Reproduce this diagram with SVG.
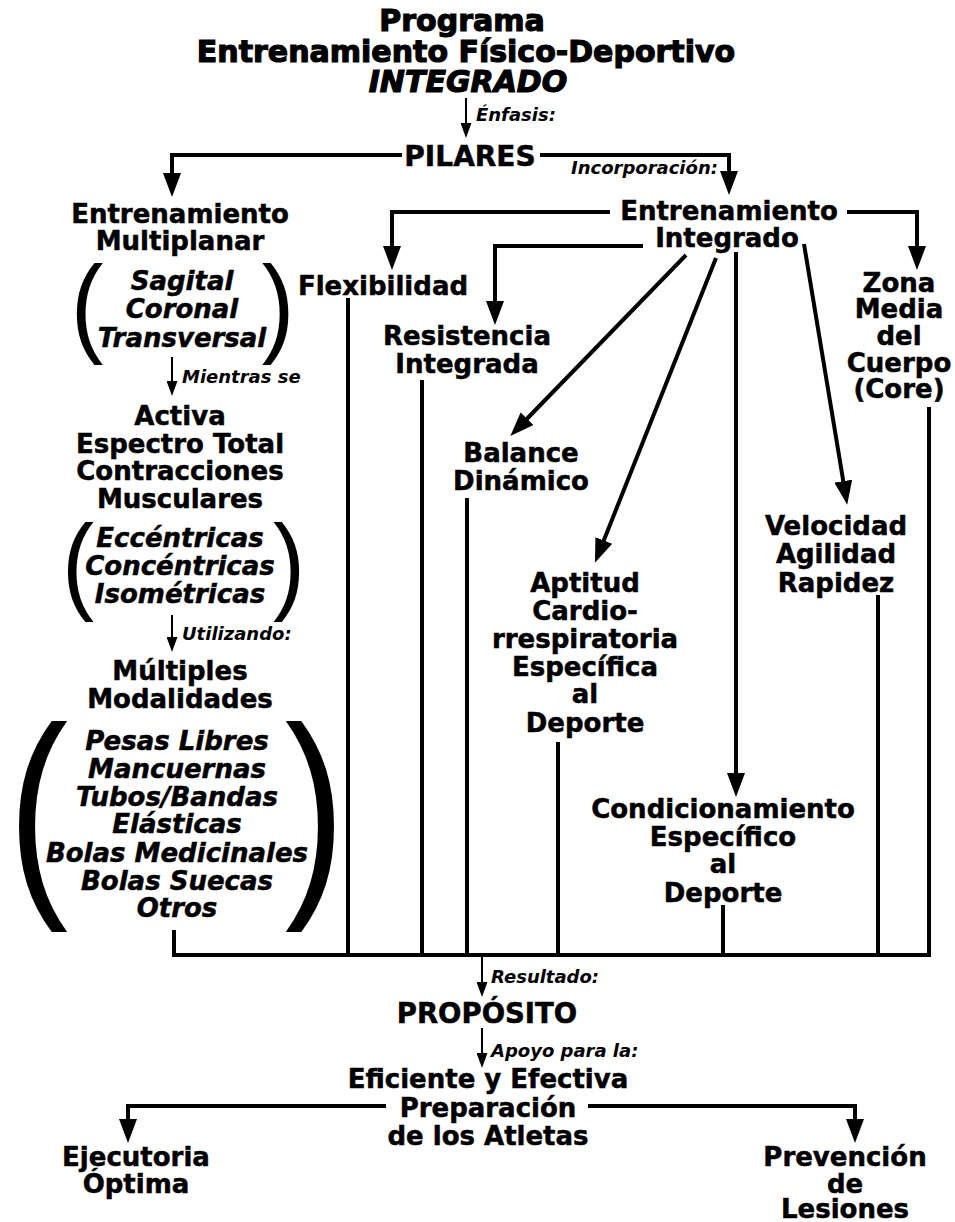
<svg xmlns="http://www.w3.org/2000/svg" width="955" height="1222" viewBox="0 0 955 1222">
<style>
.n{font-family:"DejaVu Sans","Liberation Sans",sans-serif;font-weight:bold;font-size:26px;text-anchor:middle;fill:#000;stroke:#000;stroke-width:0.5}
.it{font-style:italic}
.t{font-family:"DejaVu Sans","Liberation Sans",sans-serif;font-weight:bold;font-size:30px;text-anchor:middle;fill:#000;stroke:#000;stroke-width:1.2}
.s{font-family:"DejaVu Sans","Liberation Sans",sans-serif;font-weight:bold;font-style:italic;font-size:18px;fill:#000}
.p{font-family:"Liberation Sans",sans-serif;font-weight:normal;text-anchor:middle;fill:#000}
.c{fill:none;stroke:#000;stroke-width:4}
.cs{fill:none;stroke:#000;stroke-width:2}
</style>
<defs>
<marker id="ah" markerUnits="userSpaceOnUse" markerWidth="24" markerHeight="18" viewBox="0 0 24 18" refX="13" refY="9" orient="auto"><path d="M0,0 L24,9 L0,18 z" fill="#000"/></marker>
<marker id="ahs" markerUnits="userSpaceOnUse" markerWidth="15" markerHeight="11" viewBox="0 0 15 11" refX="8" refY="5.5" orient="auto"><path d="M0,0 L15,5.5 L0,11 z" fill="#000"/></marker>
</defs>

<g id="connectors">
<path class="cs" d="M466,98 V131" marker-end="url(#ahs)"/>
<path class="c" d="M402,155 H172 V186" marker-end="url(#ah)"/>
<path class="c" d="M540,155 H729 V184" marker-end="url(#ah)"/>
<path class="cs" d="M172,357 V389" marker-end="url(#ahs)"/>
<path class="cs" d="M172,615 V645" marker-end="url(#ahs)"/>
<path class="c" d="M610,212 H392 V259" marker-end="url(#ah)"/>
<path class="c" d="M847,212 H917 V259" marker-end="url(#ah)"/>
<path class="c" d="M643,246 H495 V314" marker-end="url(#ah)"/>
<path class="c" d="M686,255 L518,428" marker-end="url(#ah)"/>
<path class="c" d="M716,258 L599,552.5" marker-end="url(#ah)"/>
<path class="c" d="M736,252 V786" marker-end="url(#ah)"/>
<path class="c" d="M804,244 L845.4,494" marker-end="url(#ah)"/>
<path class="c" d="M174,930 V955 H929 V407"/>
<path class="c" d="M348,298 V955"/>
<path class="c" d="M422,380 V955"/>
<path class="c" d="M467,498 V955"/>
<path class="c" d="M558,742 V955"/>
<path class="c" d="M723,905 V955"/>
<path class="c" d="M878,595 V955"/>
<path class="cs" d="M482,957 V990" marker-end="url(#ahs)"/>
<path class="cs" d="M482,1028 V1061" marker-end="url(#ahs)"/>
<path class="c" d="M386,1106 H128 V1132" marker-end="url(#ah)"/>
<path class="c" d="M588,1106 H855 V1132" marker-end="url(#ah)"/>
</g>

<g id="label-enfasis"><text class="s" x="476" y="121">Énfasis:</text></g>
<g id="label-incorporacion"><text class="s" x="571" y="174">Incorporación:</text></g>
<g id="label-mientras"><text class="s" x="182" y="383">Mientras se</text></g>
<g id="label-utilizando"><text class="s" x="182" y="640">Utilizando:</text></g>
<g id="label-resultado"><text class="s" x="491" y="983">Resultado:</text></g>
<g id="label-apoyo"><text class="s" x="491" y="1057">Apoyo para la:</text></g>

<g id="title">
<text class="t" x="462" y="31">Programa</text>
<text class="t" x="466" y="62">Entrenamiento Físico-Deportivo</text>
<text class="t it" x="468" y="92">INTEGRADO</text>
</g>

<g id="pilares"><text class="n" x="470" y="166" style="font-size:28px">PILARES</text></g>

<g id="multiplanar">
<text class="n" x="180" y="223">Entrenamiento</text>
<text class="n" x="180" y="250">Multiplanar</text>
<text class="p" transform="translate(87,342) scale(0.9,1)" font-size="109">(</text>
<text class="p" transform="translate(278,342) scale(0.9,1)" font-size="109">)</text>
<text class="n it" x="182" y="290">Sagital</text>
<text class="n it" x="182" y="318">Coronal</text>
<text class="n it" x="182" y="347">Transversal</text>
</g>

<g id="contracciones">
<text class="n" x="180" y="425">Activa</text>
<text class="n" x="180" y="453">Espectro Total</text>
<text class="n" x="180" y="480">Contracciones</text>
<text class="n" x="180" y="508">Musculares</text>
<text class="p" transform="translate(78,600) scale(0.9,1)" font-size="107">(</text>
<text class="p" transform="translate(289,600) scale(0.9,1)" font-size="107">)</text>
<text class="n it" x="180" y="547">Eccéntricas</text>
<text class="n it" x="180" y="575">Concéntricas</text>
<text class="n it" x="180" y="603">Isométricas</text>
</g>

<g id="modalidades">
<text class="n" x="180" y="680">Múltiples</text>
<text class="n" x="180" y="708">Modalidades</text>
<text class="p" transform="translate(38,885) scale(0.8,1)" font-size="227">(</text>
<text class="p" transform="translate(315,885) scale(0.8,1)" font-size="227">)</text>
<text class="n it" x="177" y="750">Pesas Libres</text>
<text class="n it" x="177" y="778">Mancuernas</text>
<text class="n it" x="177" y="806">Tubos/Bandas</text>
<text class="n it" x="177" y="833">Elásticas</text>
<text class="n it" x="177" y="862">Bolas Medicinales</text>
<text class="n it" x="177" y="890">Bolas Suecas</text>
<text class="n it" x="177" y="917">Otros</text>
</g>

<g id="integrado">
<text class="n" x="729" y="220">Entrenamiento</text>
<text class="n" x="727" y="247">Integrado</text>
</g>
<g id="flexibilidad"><text class="n" x="383" y="295">Flexibilidad</text></g>
<g id="resistencia">
<text class="n" x="467" y="345">Resistencia</text>
<text class="n" x="467" y="373">Integrada</text>
</g>
<g id="zona">
<text class="n" x="899" y="292">Zona</text>
<text class="n" x="899" y="318">Media</text>
<text class="n" x="899" y="345">del</text>
<text class="n" x="899" y="372">Cuerpo</text>
<text class="n" x="899" y="398">(Core)</text>
</g>
<g id="balance">
<text class="n" x="521" y="462">Balance</text>
<text class="n" x="521" y="490">Dinámico</text>
</g>
<g id="aptitud">
<text class="n" x="585" y="592">Aptitud</text>
<text class="n" x="585" y="620">Cardio-</text>
<text class="n" x="585" y="648">rrespiratoria</text>
<text class="n" x="585" y="676">Específica</text>
<text class="n" x="585" y="703">al</text>
<text class="n" x="585" y="732">Deporte</text>
</g>
<g id="velocidad">
<text class="n" x="836" y="535">Velocidad</text>
<text class="n" x="836" y="563">Agilidad</text>
<text class="n" x="836" y="592">Rapidez</text>
</g>
<g id="condicionamiento">
<text class="n" x="723" y="818">Condicionamiento</text>
<text class="n" x="723" y="846">Específico</text>
<text class="n" x="723" y="873">al</text>
<text class="n" x="723" y="902">Deporte</text>
</g>

<g id="proposito"><text class="n" x="487" y="1023" style="font-size:27.5px">PROPÓSITO</text></g>
<g id="preparacion">
<text class="n" x="488" y="1088">Eficiente y Efectiva</text>
<text class="n" x="488" y="1117">Preparación</text>
<text class="n" x="488" y="1145">de los Atletas</text>
</g>
<g id="ejecutoria">
<text class="n" x="136" y="1166">Ejecutoria</text>
<text class="n" x="136" y="1193">Óptima</text>
</g>
<g id="prevencion">
<text class="n" x="845" y="1166">Prevención</text>
<text class="n" x="845" y="1193">de</text>
<text class="n" x="845" y="1218">Lesiones</text>
</g>
</svg>
